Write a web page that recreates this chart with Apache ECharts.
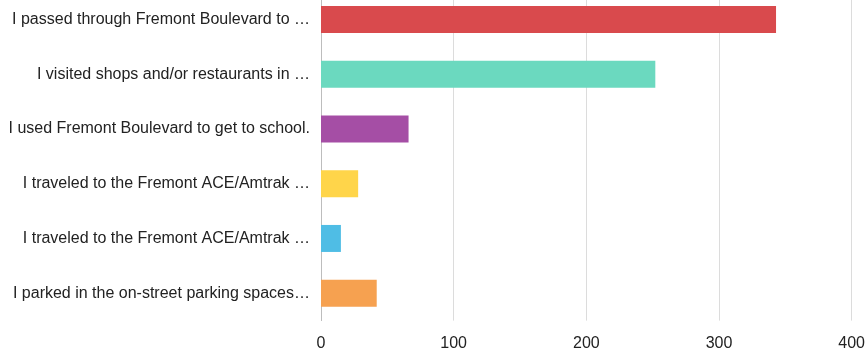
<!DOCTYPE html>
<html><head><meta charset="utf-8">
<script src="https://cdn.jsdelivr.net/npm/echarts@6/dist/echarts.min.js"></script>
<style>html,body{margin:0;padding:0;background:#fff;overflow:hidden}#c{position:absolute;left:0;top:-8px;width:868px;height:364px}</style>
</head><body><div id="c"></div>
<script>
const categories = [
  "I passed through Fremont Boulevard to …",
  "I visited shops and/or restaurants in …",
  "I used Fremont Boulevard to get to school.",
  "I traveled to the Fremont ACE/Amtrak …",
  "I traveled to the Fremont ACE/Amtrak …",
  "I parked in the on-street parking spaces…"
];
const values = [343, 252, 66, 28, 15, 42];
const colors = ["#d94a4d", "#6bd9bf", "#a54ea5", "#ffd54a", "#4fbde5", "#f6a150"];
const xTicks = [0, 100, 200, 300, 400];

const chart = echarts.init(document.getElementById('c'), null, {renderer: 'canvas'});
chart.setOption({
  animation: false,
  grid: {left: 321, right: 12.5, top: 0, bottom: 35.4, containLabel: false},
  xAxis: {
    type: 'value', min: xTicks[0], max: xTicks[xTicks.length - 1], interval: 100,
    axisLine: {show: false}, axisTick: {show: false},
    splitLine: {show: true, lineStyle: {color: '#dcdcdc', width: 1}},
    axisLabel: {color: '#222', fontSize: 16, fontFamily: 'Liberation Sans, Arial, sans-serif', margin: 15}
  },
  yAxis: {
    type: 'category', data: categories, inverse: true,
    axisLine: {show: true, lineStyle: {color: '#bdbdbd', width: 1}},
    axisTick: {show: false},
    axisLabel: {color: '#222', fontSize: 16, fontFamily: 'Liberation Sans, Arial, sans-serif', margin: 11}
  },
  series: [{
    type: 'bar',
    barWidth: 27,
    data: values.map((v, i) => ({value: v, itemStyle: {color: colors[i]}}))
  }]
});
</script></body></html>
